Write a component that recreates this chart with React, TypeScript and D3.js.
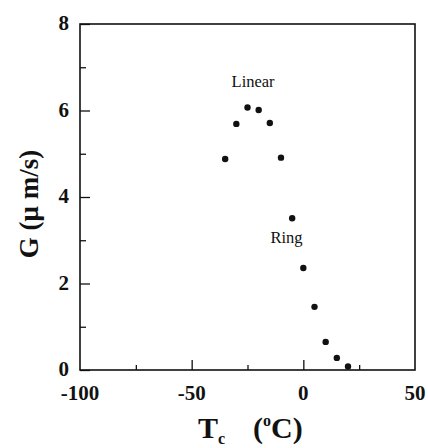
import React, { useEffect, useRef } from "react";
import * as d3 from "d3";

// Crystallization temperature (°C) vs growth rate G (μm/s)
const temps = [-35, -30, -25, -20, -15, -10, -5, 0, 5, 10, 15, 20];
const rates = [4.88, 5.69, 6.07, 6.01, 5.71, 4.91, 3.51, 2.36, 1.46, 0.65, 0.28, 0.08];

const xMajorTicks = [-100, -50, 0, 50];
const xMinorTicks = [-75, -25, 25];
const yMajorTicks = [0, 2, 4, 6, 8];
const yMinorTicks = [1, 3, 5, 7];

const annotations = [
  { text: "Linear", x: -22.5, y: 6.55 },
  { text: "Ring", x: -7.5, y: 2.93 },
];

export default function App() {
  const svgRef = useRef<SVGSVGElement>(null);
  const width = 428;
  const height = 448;

  useEffect(() => {
    if (!svgRef.current) return;
    const svg = d3.select(svgRef.current);
    svg.selectAll("*").remove();

    const margin = { top: 24, right: 13, bottom: 78, left: 80 };
    const innerWidth = width - margin.left - margin.right;
    const innerHeight = height - margin.top - margin.bottom;

    const g = svg
      .append("g")
      .attr("transform", `translate(${margin.left},${margin.top})`);

    const x = d3.scaleLinear().domain([-100, 50]).range([0, innerWidth]);
    const y = d3.scaleLinear().domain([0, 8]).range([innerHeight, 0]);

    const font = "'Liberation Serif', 'Times New Roman', serif";

    // frame
    g.append("rect")
      .attr("width", innerWidth)
      .attr("height", innerHeight)
      .attr("fill", "none")
      .attr("stroke", "#111")
      .attr("stroke-width", 1.6);

    // left axis (inward ticks)
    g.append("g")
      .call(
        d3
          .axisRight(y)
          .tickValues(yMajorTicks)
          .tickSize(10)
          .tickFormat(() => "")
      )
      .select(".domain")
      .remove();
    g.append("g")
      .call(
        d3
          .axisRight(y)
          .tickValues(yMinorTicks)
          .tickSize(6)
          .tickFormat(() => "")
      )
      .select(".domain")
      .remove();

    // bottom axis (inward ticks)
    g.append("g")
      .attr("transform", `translate(0,${innerHeight})`)
      .call(
        d3
          .axisTop(x)
          .tickValues(xMajorTicks.filter((d) => d > -100 && d < 50))
          .tickSize(10)
          .tickFormat(() => "")
      )
      .select(".domain")
      .remove();
    g.append("g")
      .attr("transform", `translate(0,${innerHeight})`)
      .call(
        d3
          .axisTop(x)
          .tickValues(xMinorTicks)
          .tickSize(5)
          .tickFormat(() => "")
      )
      .select(".domain")
      .remove();

    g.selectAll(".tick line").attr("stroke", "#111").attr("stroke-width", 1.3);

    // tick labels
    g.selectAll(".ylab")
      .data(yMajorTicks)
      .enter()
      .append("text")
      .attr("x", -11)
      .attr("y", (d) => y(d))
      .attr("dy", "0.3em")
      .attr("text-anchor", "end")
      .attr("font-family", font)
      .attr("font-weight", "bold")
      .attr("font-size", 21)
      .attr("fill", "#111")
      .text((d) => d);

    g.selectAll(".xlab")
      .data(xMajorTicks)
      .enter()
      .append("text")
      .attr("x", (d) => x(d))
      .attr("y", innerHeight + 30)
      .attr("text-anchor", "middle")
      .attr("font-family", font)
      .attr("font-weight", "bold")
      .attr("font-size", 21)
      .attr("fill", "#111")
      .text((d) => d);

    // points
    const points = temps.map((t, i) => ({ t, r: rates[i] }));
    g.selectAll(".dot")
      .data(points)
      .enter()
      .append("circle")
      .attr("cx", (d) => x(d.t))
      .attr("cy", (d) => y(d.r))
      .attr("r", 3.2)
      .attr("fill", "#111");

    // annotations
    g.selectAll(".note")
      .data(annotations)
      .enter()
      .append("text")
      .attr("x", (d) => x(d.x))
      .attr("y", (d) => y(d.y))
      .attr("text-anchor", "middle")
      .attr("font-family", font)
      .attr("font-size", 16.5)
      .attr("fill", "#111")
      .text((d) => d.text);

    // axis titles
    const xt = svg
      .append("text")
      .attr("x", 198)
      .attr("y", 438)
      .attr("font-family", font)
      .attr("font-weight", "bold")
      .attr("font-size", 30)
      .attr("fill", "#111");
    xt.append("tspan").text("T");
    xt.append("tspan").attr("font-size", 16).attr("dy", 6).text("c");
    xt.append("tspan").attr("x", 253).attr("dy", -6).text("(");
    xt.append("tspan").attr("font-size", 16).attr("dy", -12).text("o");
    xt.append("tspan").attr("dy", 12).text("C)");

    svg
      .append("text")
      .attr("transform", `translate(38,204) rotate(-90)`)
      .attr("text-anchor", "middle")
      .attr("font-family", font)
      .attr("font-weight", "bold")
      .attr("font-size", 27)
      .attr("fill", "#111")
      .text("G (\u03bc m/s)");
  }, []);

  return (
    <svg
      ref={svgRef}
      width={width}
      height={height}
      style={{ position: "absolute", left: 0, top: 0, background: "#fff" }}
    />
  );
}
